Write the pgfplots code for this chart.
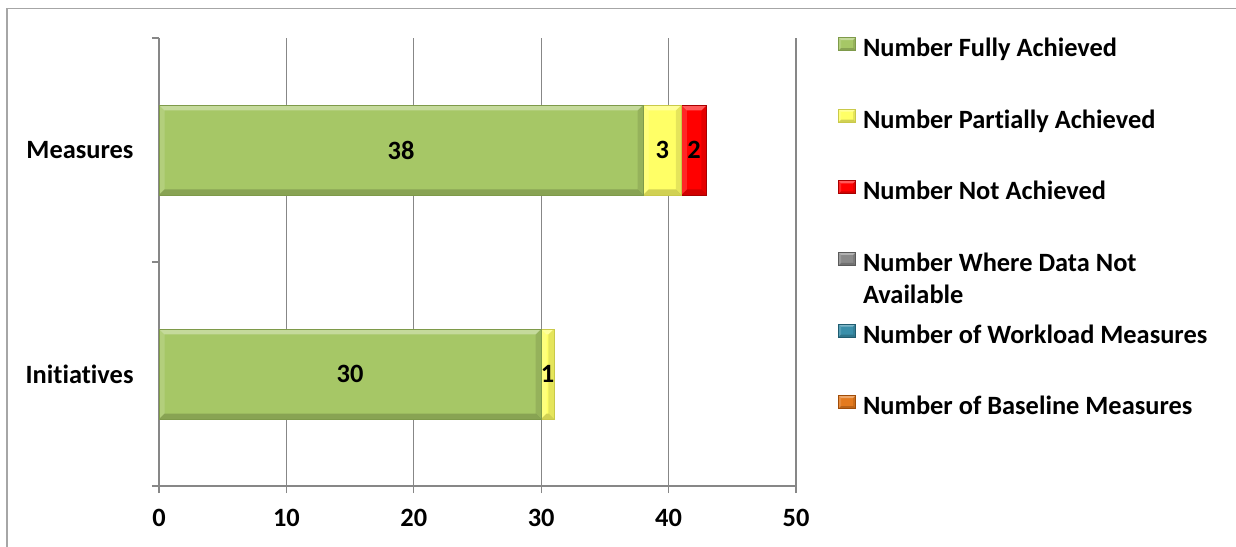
\documentclass[border=0pt]{standalone}
\usepackage{fontspec}
\setmainfont{Carlito}[Ligatures={NoCommon,NoContextual}]
\usepackage{pgfplots}
\pgfplotsset{compat=1.18}
\definecolor{cgreen}{HTML}{A6C766}
\definecolor{cgreenD}{HTML}{7E9A4A}
\definecolor{cyellow}{HTML}{FFFF66}
\definecolor{cyellowD}{HTML}{C9C94A}
\definecolor{cred}{HTML}{FF0000}
\definecolor{credD}{HTML}{A80000}
\definecolor{cgray}{HTML}{8A8A8A}
\definecolor{cgrayD}{HTML}{5A5A5A}
\definecolor{cblue}{HTML}{3A8FAA}
\definecolor{cblueD}{HTML}{205C70}
\definecolor{corange}{HTML}{E47A1E}
\definecolor{corangeD}{HTML}{A04C08}
\definecolor{gridc}{HTML}{878787}
\definecolor{framec}{HTML}{A6A6A6}
\newcommand{\lbl}{\bfseries\fontsize{26.4}{32}\selectfont}
\newcommand{\bevelcode}[1]{%
    \def\b{#1}%
    \fill[white, opacity=0.35, draw=none, path picture={}] (path picture bounding box.north west) -- (path picture bounding box.north east) -- ([xshift=-\b,yshift=-\b]path picture bounding box.north east) -- ([xshift=\b,yshift=-\b]path picture bounding box.north west) -- cycle;
    \fill[white, opacity=0.15, draw=none, path picture={}] (path picture bounding box.north west) -- ([xshift=\b,yshift=-\b]path picture bounding box.north west) -- ([xshift=\b,yshift=\b]path picture bounding box.south west) -- (path picture bounding box.south west) -- cycle;
    \fill[black, opacity=0.18, draw=none, path picture={}] (path picture bounding box.south west) -- (path picture bounding box.south east) -- ([xshift=-\b,yshift=\b]path picture bounding box.south east) -- ([xshift=\b,yshift=\b]path picture bounding box.south west) -- cycle;
    \fill[black, opacity=0.10, draw=none, path picture={}] (path picture bounding box.north east) -- ([xshift=-\b,yshift=-\b]path picture bounding box.north east) -- ([xshift=-\b,yshift=\b]path picture bounding box.south east) -- (path picture bounding box.south east) -- cycle;
}
\tikzset{
  bevel/.style={path picture={\bevelcode{5.5pt}}},
  bevelsmall/.style={path picture={\bevelcode{2.5pt}}},
  legbox/.style n args={2}{fill=#1, draw=#2, line width=0.8pt, bevelsmall}
}
\pgfplotsset{
  geom/.style={at={(159pt,60pt)}, anchor=south west,
    scale only axis, width=637pt, height=448pt,
    xmin=0, xmax=50, ymin=-0.5, ymax=1.5, clip=false},
}
\begin{document}
\begin{tikzpicture}[x=1pt,y=1pt]
\useasboundingbox (0,0) rectangle (1236,546);
\draw[framec, line width=1.5pt] (7,-2) -- (7,537.5) -- (1240,537.5);
% main axis: grid, ticks, legend, Initiatives bars
\begin{axis}[
  geom,
  xbar stacked, bar width=90pt,
  axis lines*=left,
  axis line style={draw=gridc, line width=1.3pt},
  xtick={0,10,...,50},
  xticklabel style={yshift=-13pt},
  ytick={-0.5,0.5,1.5}, yticklabels={},
  extra y ticks={0,1}, extra y tick labels={Initiatives,Measures},
  extra y tick style={major tick length=0pt, yticklabel style={xshift=-22pt}},
  xmajorgrids, ymajorgrids=false,
  grid style={draw=gridc, line width=1.3pt},
  major tick style={draw=gridc, line width=1.3pt},
  major tick length=7pt, tick align=outside,
  ticklabel style={font=\lbl},
  /pgf/number format/assume math mode=true,
  legend style={at={(axis description cs:1,1)}, anchor=north west,
    xshift=42pt, yshift=1pt, draw=none, fill=none, inner sep=0pt,
    row sep=46.2pt, column sep=7pt, font=\lbl,
    nodes={inner sep=0pt, text height=18pt, text depth=6pt}},
  legend cell align=left,
]
\addplot[fill=cgreen, draw=cgreenD, line width=0.8pt, bevel, forget plot] coordinates {(30,0)};
\addplot[fill=cyellow, draw=cyellowD, line width=0.8pt, bevel, forget plot] coordinates {(1,0)};
\addlegendimage{legend image code/.code={\draw[legbox={cgreen}{cgreenD}] (0pt,0pt) rectangle (17pt,13pt);}}
\addlegendentry{Number Fully Achieved}
\addlegendimage{legend image code/.code={\draw[legbox={cyellow}{cyellowD}] (0pt,0pt) rectangle (17pt,13pt);}}
\addlegendentry{Number Partially Achieved}
\addlegendimage{legend image code/.code={\draw[legbox={cred}{credD}] (0pt,0pt) rectangle (17pt,13pt);}}
\addlegendentry{Number Not Achieved}
\addlegendimage{legend image code/.code={\draw[legbox={cgray}{cgrayD}] (0pt,0pt) rectangle (17pt,13pt);}}
\addlegendentry{\parbox[t]{330pt}{Number Where Data Not\\Available}}
\addlegendimage{legend image code/.code={\draw[legbox={cblue}{cblueD}] (0pt,0pt) rectangle (17pt,13pt);}}
\addlegendentry{Number of Workload Measures}
\addlegendimage{legend image code/.code={\draw[legbox={corange}{corangeD}] (0pt,0pt) rectangle (17pt,13pt);}}
\addlegendentry{Number of Baseline Measures}
\end{axis}
% overlay axis: Measures bars
\begin{axis}[geom, axis lines=none, xbar stacked, bar width=90pt]
\addplot[fill=cgreen, draw=cgreenD, line width=0.8pt, bevel] coordinates {(38,1)};
\addplot[fill=cyellow, draw=cyellowD, line width=0.8pt, bevel] coordinates {(3,1)};
\addplot[fill=cred, draw=credD, line width=0.8pt, bevel] coordinates {(2,1)};
\end{axis}
% overlay axis: data labels
\begin{axis}[geom, axis lines=none]
\addplot[only marks, mark=none, nodes near coords, point meta=explicit symbolic,
  nodes near coords align=center,
  every node near coord/.append style={font=\lbl, text=black, inner sep=0pt}]
  coordinates {(19,1) [38] (39.5,1) [3] (42,1) [2] (15,0) [30] (30.5,0) [1]};
\end{axis}
\end{tikzpicture}
\end{document}
